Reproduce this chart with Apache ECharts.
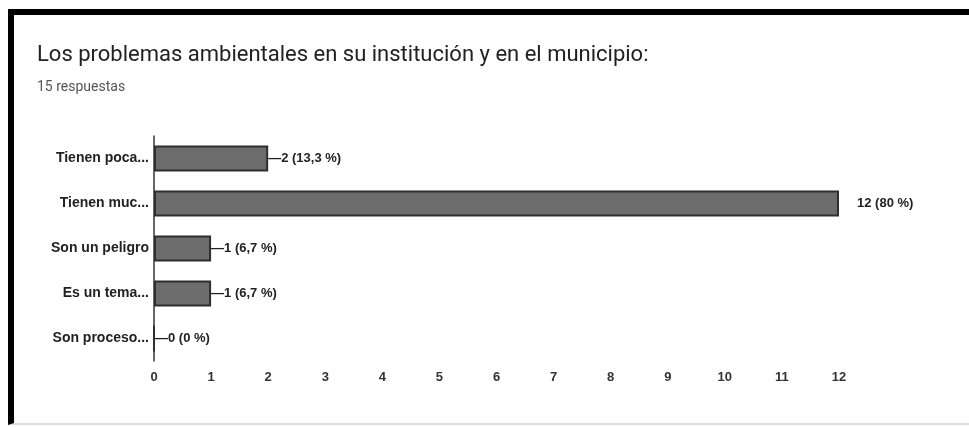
<!DOCTYPE html>
<html>
<head>
<meta charset="utf-8">
<script src="https://cdn.jsdelivr.net/npm/echarts@6/dist/echarts.min.js"></script>
<style>
  html, body { margin: 0; padding: 0; background: #fff; }
  .frame {
    position: absolute;
    left: 8px; top: 9px;
    width: 961px; height: 408px;
    border-top: 6px solid #000;
    border-left: 6px solid #000;
    border-bottom: 2px solid #ddd;
    box-sizing: content-box;
  }
  #chart { position: absolute; left: 0; top: 0; width: 969px; height: 427px; }
</style>
</head>
<body>
<div class="frame"></div>
<div id="chart"></div>
<script>
const categories = ['Tienen poca...', 'Tienen muc...', 'Son un peligro', 'Es un tema...', 'Son proceso...']
const counts = [2, 12, 1, 1, 0]
const percents = ['13,3 %', '80 %', '6,7 %', '6,7 %', '0 %']
const xTicks = [0, 1, 2, 3, 4, 5, 6, 7, 8, 9, 10, 11, 12]

const chart = echarts.init(document.getElementById('chart'))

const barData = counts.map((v, i) => {
  // the longest bar has its label set off without the leader dash
  const long = v === Math.max(...counts)
  return {
    value: v,
    label: {
      formatter: (long ? '' : '—') + v + ' (' + percents[i] + ')',
      distance: long ? 18 : 0
    }
  }
})

chart.setOption({
  animation: false,
  title: [
    {
      text: 'Los problemas ambientales en su institución y en el municipio:',
      left: 37, top: 44, padding: 0,
      textStyle: { fontFamily: 'Roboto', fontWeight: 'normal', fontSize: 22, color: '#222' }
    },
    {
      text: '15 respuestas',
      left: 37, top: 80, padding: 0,
      textStyle: { fontFamily: 'Roboto', fontWeight: 'normal', fontSize: 14, color: '#555' }
    }
  ],
  grid: { left: 154, right: 130, top: 136, bottom: 66 },
  xAxis: {
    type: 'value',
    min: xTicks[0],
    max: xTicks[xTicks.length - 1],
    interval: 1,
    axisLine: { show: false },
    axisTick: { show: false },
    splitLine: { show: false },
    axisLabel: {
      margin: 10,
      fontFamily: 'Liberation Sans', fontWeight: 'bold', fontSize: 13, color: '#333'
    }
  },
  yAxis: {
    type: 'category',
    data: categories,
    inverse: true,
    axisLine: { show: true, lineStyle: { color: '#333', width: 1.5 } },
    axisTick: { show: false },
    axisLabel: {
      margin: 5,
      fontFamily: 'Liberation Sans', fontWeight: 'bold', fontSize: 14, color: '#222'
    }
  },
  series: [{
    type: 'bar',
    data: barData,
    barWidth: 26,
    itemStyle: { color: '#6c6c6c', borderColor: '#2e2e2e', borderWidth: 2 },
    label: {
      show: true,
      position: 'right',
      fontFamily: 'Liberation Sans', fontWeight: 'bold', fontSize: 13, color: '#222'
    }
  }]
})
</script>
</body>
</html>
